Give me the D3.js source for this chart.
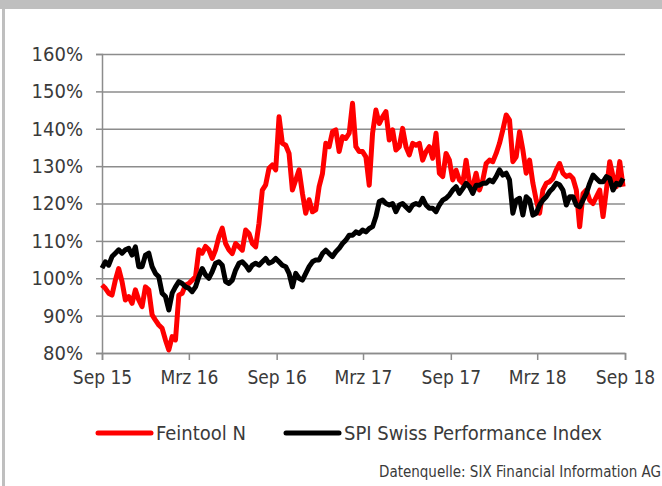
<!DOCTYPE html>
<html>
<head>
<meta charset="utf-8">
<script src="https://cdn.jsdelivr.net/npm/d3@7"></script>
<style>
  body { margin: 0; background: #fff; }
  svg text { font-family: "Liberation Sans Narrow", "DejaVu Sans Condensed", "Roboto", sans-serif; fill: #3a3a3a; }
</style>
</head>
<body>
<svg id="chart" width="662" height="486"></svg>
<script>
// weekly closes, indexed to 100% at start (Sep 2015)
const feintool = [
  98.2, 97.3, 96.0, 95.5, 99.5, 102.6, 99.1, 94.2, 95.1, 93.3,
  96.9, 94.2, 92.4, 97.7, 96.9, 90.2, 88.8, 87.5, 86.6, 83.5,
  80.8, 84.4, 83.5, 95.5, 96.0, 98.2, 98.6, 99.5, 100.4, 107.6,
  106.7, 108.5, 107.6, 105.3, 107.6, 111.1, 113.4, 109.3, 107.6, 106.6,
  109.3, 108.4, 107.5, 112.9, 112.0, 109.3, 108.4, 114.7, 123.6, 125.0,
  129.4, 130.3, 129.0, 143.2, 136.1, 135.6, 133.4, 123.6, 126.3, 129.0,
  122.7, 117.4, 121.0, 117.8, 118.3, 124.5, 128.0, 136.1, 135.2, 139.2,
  139.7, 133.9, 137.9, 137.4, 138.8, 146.8, 135.2, 133.9, 133.9, 132.5,
  124.9, 138.8, 145.0, 141.4, 143.2, 144.6, 137.0, 139.7, 134.3, 135.2,
  140.1, 135.2, 133.0, 136.1, 135.6, 136.1, 131.6, 133.9, 135.2, 132.1,
  138.8, 128.1, 127.2, 133.4, 131.6, 126.3, 128.9, 126.3, 125.4, 131.6,
  125.4, 124.5, 128.1, 123.6, 126.3, 130.7, 131.6, 131.2, 133.4, 136.1,
  139.7, 143.7, 142.3, 131.2, 132.5, 139.2, 134.3, 128.1, 131.6, 125.4,
  120.9, 117.4, 123.6, 125.4, 125.8, 126.7, 129.0, 130.7, 128.1, 127.2,
  127.6, 126.7, 123.6, 113.8, 122.7, 123.6, 120.9, 120.0, 121.8, 123.6,
  116.5, 123.6, 131.2, 127.2, 124.5, 131.2, 124.5
];

const spi = [
  102.7, 104.4, 103.5, 105.8, 106.7, 107.6, 106.7, 107.6, 108.0, 106.2,
  108.4, 103.1, 103.1, 106.2, 106.7, 103.1, 101.3, 100.4, 96.0, 95.1,
  91.5, 96.0, 97.7, 99.1, 98.6, 97.7, 97.3, 96.4, 97.7, 100.4,
  102.6, 100.9, 100.0, 101.8, 104.0, 104.4, 103.5, 99.1, 98.6, 99.5,
  102.2, 104.0, 104.4, 103.5, 102.2, 103.5, 104.0, 103.5, 104.4, 105.3,
  104.0, 104.4, 105.3, 104.4, 103.5, 103.1, 101.3, 97.7, 101.3, 100.0,
  99.5, 101.3, 103.1, 104.4, 104.9, 104.9, 106.6, 107.5, 106.6, 105.8,
  107.1, 108.0, 109.3, 110.2, 111.5, 111.5, 112.4, 112.0, 112.9, 112.4,
  113.3, 113.8, 116.5, 120.5, 120.9, 120.0, 119.6, 120.0, 117.8, 119.6,
  120.0, 119.1, 118.2, 119.6, 120.0, 119.6, 121.4, 119.6, 118.7, 118.7,
  117.8, 119.6, 120.9, 121.4, 122.3, 123.6, 124.5, 122.7, 124.0, 125.4,
  124.5, 122.7, 124.9, 124.9, 125.4, 125.4, 126.3, 125.8, 127.2, 129.0,
  127.6, 128.1, 126.3, 117.4, 120.9, 121.4, 116.9, 121.8, 120.9, 116.9,
  117.4, 119.6, 120.9, 121.8, 123.2, 124.1, 125.4, 125.0, 123.6, 119.6,
  121.8, 121.8, 119.6, 119.1, 120.9, 122.7, 125.4, 127.6, 126.7, 125.8,
  125.8, 127.2, 126.7, 123.6, 125.4, 125.0, 126.7
];

const tickDates = ["2015-09-01", "2016-03-01", "2016-09-01", "2017-03-01", "2017-09-01", "2018-03-01", "2018-09-01"];
const tickLabels = ["Sep 15", "Mrz 16", "Sep 16", "Mrz 17", "Sep 17", "Mrz 18", "Sep 18"];
const yTicks = [80, 90, 100, 110, 120, 130, 140, 150, 160];

const seriesNames = ["Feintool N", "SPI Swiss Performance Index"];
const seriesColors = ["#ff0000", "#000000"];

const parse = d3.utcParse("%Y-%m-%d");
const start = parse(tickDates[0]);
const weekDate = i => d3.utcDay.offset(start, i * 7);

const svg = d3.select("#chart");

// frame
svg.append("rect").attr("x", 0).attr("y", 0).attr("width", 662).attr("height", 9).attr("fill", "#bfbfbf");
svg.append("rect").attr("x", 2).attr("y", 0).attr("width", 3).attr("height", 486).attr("fill", "#bfbfbf");

const margin = {left: 102, right: 625, top: 54, bottom: 353};

const x = d3.scaleUtc()
    .domain([start, parse(tickDates[tickDates.length - 1])])
    .range([margin.left, margin.right]);

const y = d3.scaleLinear()
    .domain([80, 160])
    .range([margin.bottom, margin.top]);

// gridlines + y axis
const yAxis = svg.append("g")
    .attr("transform", `translate(${margin.left},0)`)
    .call(d3.axisLeft(y).tickValues(yTicks).tickFormat(d => d + "%").tickSize(6).tickPadding(13));
yAxis.select(".domain").attr("stroke", "#8c8c8c").attr("stroke-width", 1.5);
yAxis.selectAll(".tick line").attr("stroke", "#8c8c8c").attr("stroke-width", 1.5);
yAxis.selectAll(".tick").append("line")
    .attr("x1", 0).attr("x2", margin.right - margin.left)
    .attr("stroke", "#8c8c8c").attr("stroke-width", 1.5);
yAxis.selectAll("text").attr("font-size", 20).attr("fill", "#3a3a3a");

const xAxis = svg.append("g")
    .attr("transform", `translate(0,${margin.bottom})`)
    .call(d3.axisBottom(x).tickValues(tickDates.map(parse)).tickFormat((d, i) => tickLabels[i]).tickSize(7).tickPadding(11));
xAxis.select(".domain").attr("stroke", "#8c8c8c").attr("stroke-width", 1.5);
xAxis.selectAll(".tick line").attr("stroke", "#8c8c8c").attr("stroke-width", 1.5);
xAxis.selectAll("text").attr("font-size", 19).attr("fill", "#3a3a3a");

const line = d3.line()
    .x((d, i) => x(weekDate(i)))
    .y(d => y(d));

[feintool, spi].forEach((values, k) => {
    svg.append("path")
        .datum(values)
        .attr("d", line)
        .attr("fill", "none")
        .attr("stroke", seriesColors[k])
        .attr("stroke-width", 5)
        .attr("stroke-linejoin", "round");
});

// legend
const legendX = [98, 286];
seriesNames.forEach((name, k) => {
    const g = svg.append("g").attr("transform", `translate(${legendX[k]},433)`);
    g.append("line").attr("x1", 0).attr("x2", 53)
        .attr("stroke", seriesColors[k]).attr("stroke-width", 5).attr("stroke-linecap", "round");
    g.append("text").attr("x", 58).attr("y", 7).attr("font-size", 20).text(name);
});

svg.append("text")
    .attr("x", 661).attr("y", 477)
    .attr("text-anchor", "end")
    .attr("font-size", 15)
    .text("Datenquelle: SIX Financial Information AG");
</script>
</body>
</html>
